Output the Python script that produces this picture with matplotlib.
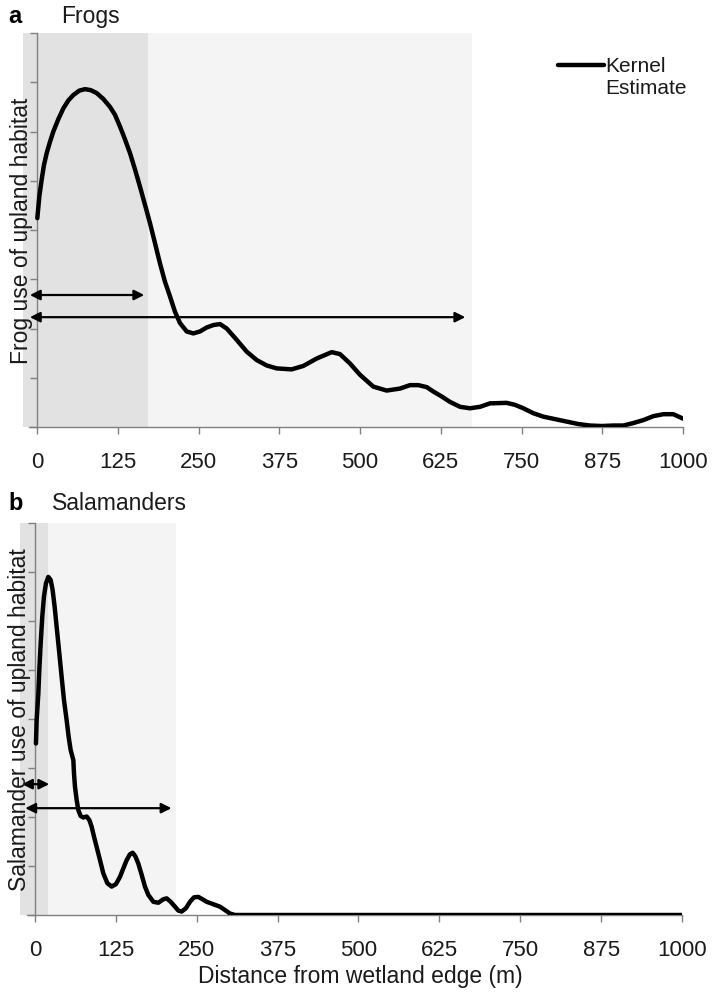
import matplotlib
matplotlib.use("Agg")
import matplotlib.pyplot as plt
from matplotlib.lines import Line2D
import numpy as np

plt.rcParams['font.family'] = ['Liberation Sans', 'DejaVu Sans']

# Frogs: kernel estimate of upland habitat use (distance in m, relative use)
frog_x = [0.5, 3.6, 7.2, 10.8, 15.0, 20.1, 25.3, 33.0, 40.8, 48.5, 56.2, 65.5, 74.3, 83.1,
          92.4, 102.7, 113.0, 120.7, 128.5, 136.2, 144.0, 151.7, 159.4, 167.2, 174.9,
          182.7, 190.4, 198.1, 205.9, 213.6, 221.4, 231.7, 242.0, 252.3, 262.6, 273.0,
          283.3, 293.6, 309.1, 324.6, 340.0, 355.5, 371.0, 394.2, 412.3, 432.9, 456.2,
          469.0, 484.5, 500.0, 520.6, 541.3, 561.9, 577.4, 590.3, 603.2, 613.5, 626.4,
          639.3, 654.8, 670.3, 685.8, 701.2, 727.0, 739.9, 752.8, 768.3, 783.8, 801.9,
          819.9, 838.0, 856.0, 874.1, 892.2, 907.6, 923.1, 938.6, 954.1, 969.6, 985.0, 1000]
frog_y = [4.24, 4.68, 5.02, 5.32, 5.56, 5.79, 6.00, 6.25, 6.47, 6.63, 6.74, 6.83, 6.86, 6.84,
          6.78, 6.66, 6.50, 6.34, 6.10, 5.84, 5.56, 5.23, 4.88, 4.51, 4.14,
          3.73, 3.32, 2.95, 2.65, 2.34, 2.11, 1.94, 1.90, 1.94, 2.02, 2.07,
          2.09, 2.00, 1.77, 1.53, 1.36, 1.25, 1.19, 1.17, 1.24, 1.39, 1.52,
          1.48, 1.29, 1.06, 0.82, 0.74, 0.78, 0.85, 0.85, 0.81, 0.72, 0.62,
          0.51, 0.41, 0.38, 0.41, 0.48, 0.49, 0.45, 0.38, 0.28, 0.21, 0.16,
          0.11, 0.06, 0.03, 0.02, 0.03, 0.03, 0.08, 0.14, 0.22, 0.26, 0.26, 0.17]

# Salamanders
sal_x = [1.5, 2.6, 5.2, 6.7, 8.8, 11.3, 13.9, 17.0, 20.6, 24.2, 27.3, 30.4, 33.5, 37.1,
         41.2, 44.8, 48.9, 52.0, 55.1, 59.3, 60.3, 61.8, 64.4, 67.0, 70.6, 74.7, 79.9,
         84.0, 87.6, 91.2, 95.3, 100.5, 105.6, 111.8, 118.5, 125.2, 131.4, 136.5, 141.7,
         146.8, 151.0, 155.1, 159.7, 164.9, 170.0, 175.2, 182.9, 190.6, 198.3, 203.5,
         209.7, 216.4, 221.5, 226.7, 233.4, 239.6, 245.7, 252.4, 259.1, 265.3, 275.6,
         285.9, 293.7, 301.4, 309.1, 316.8, 1000]
sal_y = [3.50, 3.98, 4.52, 5.00, 5.54, 6.09, 6.50, 6.77, 6.90, 6.84, 6.63, 6.29, 5.88, 5.41,
         4.86, 4.39, 3.98, 3.64, 3.37, 3.16, 2.89, 2.62, 2.35, 2.14, 2.02, 1.99, 2.01,
         1.94, 1.80, 1.60, 1.39, 1.12, 0.85, 0.65, 0.58, 0.63, 0.78, 0.95, 1.12,
         1.24, 1.27, 1.20, 1.05, 0.82, 0.58, 0.41, 0.27, 0.25, 0.32, 0.34,
         0.27, 0.17, 0.09, 0.07, 0.14, 0.27, 0.36, 0.37, 0.32, 0.27, 0.22,
         0.17, 0.10, 0.03, 0.0, 0.0, 0.0]

# shaded zones (core / extended) and the double arrows
frog_zones = [(-22, 172), (172, 673)]
sal_zones = [(-23, 20), (20, 218)]
frog_arrow_y = [2.68, 2.23]
frog_arrow_x = [(-11, 166), (-11, 663)]
sal_arrow_y = [2.67, 2.18]
sal_arrow_x = [(-20, 22), (-15, 211)]

xticks = [0, 125, 250, 375, 500, 625, 750, 875, 1000]
zone_colors = ['#e2e2e2', '#f4f4f4']
txt = '#1a1a1a'

W, H = 712, 999
fig = plt.figure(figsize=(W / 100, H / 100), dpi=100)

ax_a = fig.add_axes([20.85 / W, 1 - 427 / H, (683 - 20.85) / W, 394 / H])
ax_b = fig.add_axes([18.8 / W, 1 - 915 / H, (682 - 18.8) / W, 392 / H])


def setup(ax, x, y, zones, arr_y, arr_x):
    for (z0, z1), c in zip(zones, zone_colors):
        ax.axvspan(z0, z1, color=c, lw=0, zorder=0)
    line, = ax.plot(x, y, color='black', lw=3.2, solid_capstyle='round',
                    solid_joinstyle='round', zorder=3)
    for yy, (x0, x1) in zip(arr_y, arr_x):
        ax.annotate('', xy=(x1, yy), xytext=(x0, yy),
                    arrowprops=dict(arrowstyle='<|-|>', lw=1.6, color='black',
                                    mutation_scale=15, shrinkA=0, shrinkB=0),
                    zorder=4)
    ax.set_xlim(-25, 1000)
    ax.set_ylim(0, 8)
    ax.set_facecolor('none')
    for s in ['top', 'right']:
        ax.spines[s].set_visible(False)
    ax.spines['left'].set_position(('data', 0))
    ax.spines['bottom'].set_bounds(-12, 1000)
    for s in ['left', 'bottom']:
        ax.spines[s].set_color('#808080')
        ax.spines[s].set_linewidth(1.0)
    ax.set_xticks(xticks)
    ax.set_xticklabels([str(t) for t in xticks])
    ax.set_yticks(np.arange(0, 9))
    ax.set_yticklabels([])
    ax.tick_params(axis='both', direction='out', length=5, width=1.0, color='#808080')
    ax.tick_params(axis='x', labelsize=16, pad=13, labelcolor=txt)
    return line


line_a = setup(ax_a, frog_x, frog_y, frog_zones, frog_arrow_y, frog_arrow_x)
setup(ax_b, sal_x, sal_y, sal_zones, sal_arrow_y, sal_arrow_x)

blank = Line2D([], [], color='none')
ax_a.legend(handles=[line_a, blank], labels=['Kernel', 'Estimate'], loc='upper left',
            bbox_to_anchor=(558 / W, 1 - 57 / H), bbox_transform=fig.transFigure,
            frameon=False, fontsize=15, handlelength=2.2, handletextpad=0.05,
            borderpad=0, borderaxespad=0, labelspacing=0.15, labelcolor=txt)

fig.text(8 / W, 1 - 23 / H, 'a', fontsize=17, fontweight='bold', va='baseline')
fig.text(61 / W, 1 - 23 / H, 'Frogs', fontsize=16.5, va='baseline', color=txt)
fig.text(8 / W, 1 - 510 / H, 'b', fontsize=17, fontweight='bold', va='baseline')
fig.text(52 / W, 1 - 510 / H, 'Salamanders', fontsize=16.5, va='baseline', color=txt)

fig.text(22 / W, 1 - 231 / H, 'Frog use of upland habitat', rotation=90,
         fontsize=16.5, ha='center', va='center', color=txt)
fig.text(20 / W, 1 - 720 / H, 'Salamander use of upland habitat', rotation=90,
         fontsize=16.5, ha='center', va='center', color=txt)
fig.text(360 / W, 1 - 983 / H, 'Distance from wetland edge (m)', fontsize=16.5,
         ha='center', va='baseline', color=txt)

fig.savefig('out.png', dpi=100)
